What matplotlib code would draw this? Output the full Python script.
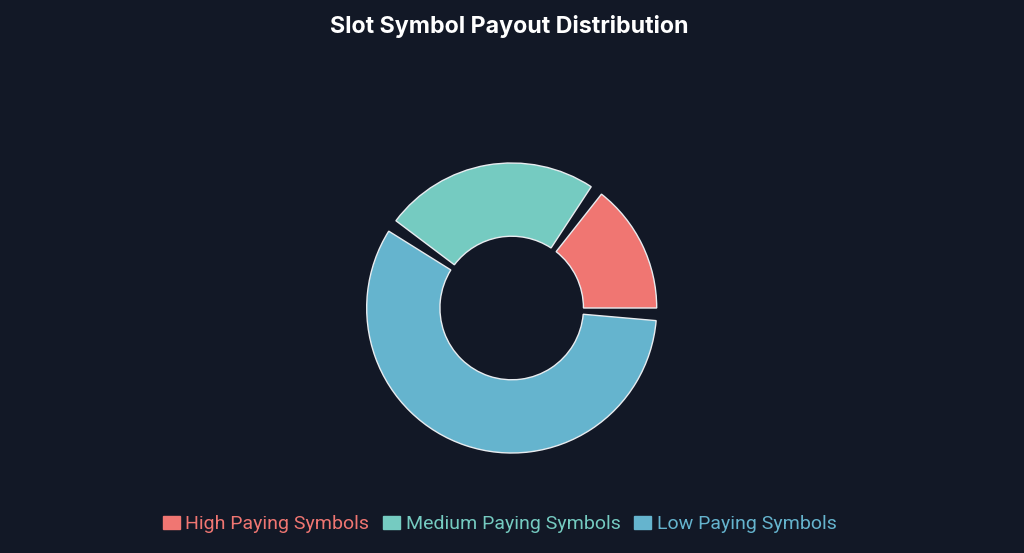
import matplotlib
matplotlib.use("Agg")
import matplotlib.pyplot as plt
from matplotlib.patches import Patch

# Data
categories = ["High Paying Symbols", "Medium Paying Symbols", "Low Paying Symbols"]
values = [15, 25, 60]
colors = ["#F07672", "#75CBC1", "#65B4CE"]
title = "Slot Symbol Payout Distribution"

BG = "#121826"
GAP_DEG = 5.0

W, H = 1024, 553
fig = plt.figure(figsize=(W / 100, H / 100), dpi=100, facecolor=BG)

# donut geometry in pixels
cx, cy, R = 511.7, 308.0, 145.0
lim = 1.1
half = R * lim
ax = fig.add_axes([(cx - half) / W, (H - cy - half) / H, 2 * half / W, 2 * half / H])
ax.set_facecolor(BG)

# interleave small transparent gap wedges between the slices
total = sum(values)
gap_val = total * GAP_DEG / (360 - GAP_DEG * len(values))
pie_vals, pie_cols = [], []
for v, c in zip(values, colors):
    pie_vals += [v, gap_val]
    pie_cols += [c, "none"]

wedges, _ = ax.pie(pie_vals, colors=pie_cols, startangle=0, counterclock=True,
                   radius=1.0, wedgeprops=dict(width=0.505, edgecolor="#E8ECF0", linewidth=1.0))
for i, w in enumerate(wedges):
    if i % 2 == 1:
        w.set_visible(False)
ax.set_xlim(-lim, lim)
ax.set_ylim(-lim, lim)
ax.set_aspect("equal")
ax.axis("off")

fig.text(0.497, 1 - 26 / H, title, ha="center", va="center", color="white",
         fontsize=16.7, fontweight="bold", family=["Inter", "DejaVu Sans"])

handles = [Patch(facecolor=c, edgecolor=c) for c in colors]
leg = fig.legend(handles, categories, loc="center", bbox_to_anchor=(0.488, 1 - 524 / H),
                 ncol=3, frameon=False, labelcolor=colors,
                 handlelength=0.87, handleheight=0.65, handletextpad=0.28, columnspacing=0.72,
                 prop={"family": ["Roboto", "DejaVu Sans"], "size": 14})

fig.savefig("out.png", dpi=100, facecolor=BG)
